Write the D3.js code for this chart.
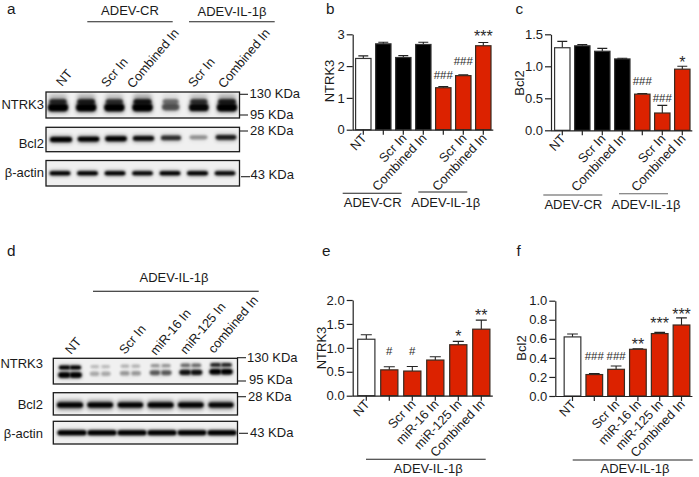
<!DOCTYPE html>
<html><head><meta charset="utf-8">
<style>html,body{margin:0;padding:0;background:#fff}svg{display:block}text{font-family:"Liberation Sans",Arial,sans-serif;fill:#1a1a1a}</style>
<script src="https://cdn.jsdelivr.net/npm/d3@7"></script></head><body>
<script>
// ---- data: bar charts ----
const bCats = ["NT","","Scr In","Combined In","","Scr In","Combined In"];
const bVals = [2.24,2.70,2.27,2.68,1.32,1.70,2.64];
const bErrs = [2.32,2.75,2.33,2.75,1.36,1.73,2.74];
const bMarks = ["","","","","###","###","***"];
const bMarkLevels = [0,0,0,0,1.72,2.17,3.03];
const bTicks = [0,1,2,3];
const cVals = [1.29,1.32,1.235,1.115,0.565,0.27,0.955];
const cErrs = [1.39,1.34,1.28,1.125,0.575,0.39,1.0];
const cMarks = ["","","","","###","###","*"];
const cMarkLevels = [0,0,0,0,0.776,0.505,1.12];
const cTicks = [0,0.5,1,1.5];
const eCats = ["NT","","Scr In","miR-16 In","miR-125 In","Combined In"];
const eVals = [1.18,0.54,0.515,0.745,1.065,1.39];
const eErrs = [1.275,0.605,0.61,0.815,1.135,1.58];
const eMarks = ["","#","#","","*","**"];
const eMarkLevels = [0,0.934,0.934,0,1.30,1.74];
const eTicks = [0,0.5,1,1.5,2];
const fVals = [0.62,0.225,0.28,0.49,0.655,0.745];
const fErrs = [0.65,0.235,0.315,0.495,0.668,0.82];
const fMarks = ["","###","###","**","***","***"];
const fMarkLevels = [0,0.423,0.423,0.577,0.797,0.892];
const fTicks = [0,0.2,0.4,0.6,0.8,1];
const topColors = ["#fff","#000","#000","#000","#dc2200","#dc2200","#dc2200"];
const botColors = ["#fff","#dc2200","#dc2200","#dc2200","#dc2200","#dc2200"];
// ---- data: blot band intensities ----
const aNtrkUpper = [.72,.78,.68,.82,.45,.68,.78];
const aNtrkLower = [1,1,1,1,.55,.9,1];
const aBcl2 = [1,.95,.95,.88,.72,.34,.8];
const aActin = [.95,.95,.95,.92,.95,.98,.92];
const dNtrkUpper = [.95,.2,.24,.34,.5,.78];
const dNtrkLower = [1,.26,.32,.55,.85,.95];
const dBcl2 = [1,.98,.95,1,.98,.92];
const dActin = [1,1,1,1,.98,1];

const svg = d3.select("body").append("svg").attr("width",699).attr("height",477);
const defs = svg.append("defs");
defs.append("filter").attr("id","blur").attr("x","-30%").attr("y","-100%").attr("width","160%").attr("height","300%")
  .append("feGaussianBlur").attr("stdDeviation","1.2 0.9");
defs.append("filter").attr("id","halo").attr("x","-30%").attr("y","-100%").attr("width","160%").attr("height","300%")
  .append("feGaussianBlur").attr("stdDeviation","2 2");

function txt(s,x,y,size,anchor,rot){
  const t = svg.append("text").text(s).attr("font-size",size).attr("text-anchor",anchor||"start");
  if(rot) t.attr("transform",`translate(${x},${y}) rotate(${rot})`); else t.attr("x",x).attr("y",y);
  return t;
}
function hline(x1,x2,y,col,w){
  svg.append("line").attr("x1",x1).attr("x2",x2).attr("y1",y).attr("y2",y).attr("stroke",col||"#222").attr("stroke-width",w||1.1);
}

// ---- panel letters ----
[["a",7,14],["b",326,14],["c",515.5,14],["d",7,256],["e",322,256],["f",516.5,256]].forEach(d=>txt(d[0],d[1],d[2],15.3));

// ---- bar chart ----
function barChart(o){
  const x = d3.scaleBand().domain(d3.range(o.vals.length)).range(o.xr).paddingInner(o.pad).paddingOuter(o.pad/2);
  const y = d3.scaleLinear().domain([0,o.max]).range(o.yr);
  const g = svg.append("g");
  const w = x.bandwidth();
  g.selectAll(".err").data(o.vals).join("path").attr("fill","none").attr("stroke","#222").attr("stroke-width",1.1)
    .attr("d",(d,i)=>{const cx=x(i)+w/2,t=y(o.errs[i]);return `M${cx-w*0.3},${t}H${cx+w*0.3}M${cx},${t}V${y(d)}`;});
  g.selectAll(".bar").data(o.vals).join("rect").attr("x",(d,i)=>x(i)+0.6).attr("width",w-1.2)
    .attr("y",d=>y(d)).attr("height",d=>y(0)-y(d))
    .attr("fill",(d,i)=>o.colors[i]).attr("stroke",(d,i)=>o.colors[i]==="#dc2200"?"#3a2a20":"#333").attr("stroke-width",1.2);
  const ya = g.append("g").attr("transform",`translate(${o.axisX},0)`)
    .call(d3.axisLeft(y).tickValues(o.ticks).tickSize(6).tickPadding(2).tickSizeOuter(0).tickFormat(d3.format(o.fmt)));
  ya.selectAll("text").attr("font-size",13).attr("font-family",null);
  const xa = g.append("g").attr("transform",`translate(0,${y(0)})`)
    .call(d3.axisBottom(x).tickSize(5).tickSizeOuter(0).tickFormat(()=>""));
  [ya,xa].forEach(a=>{a.selectAll("path,line").attr("stroke","#222").attr("stroke-width",1.2);});
  xa.select("path").attr("d",`M${o.axisX},0.5H${o.xr[1]}`);
  o.cats.forEach((c,i)=>{ if(c) txt(c,x(i)+w/2+4,y(0)+9,12.8,"end",-47); });
  o.marks.forEach((m,i)=>{ if(!m) return;
    const star = m[0]==="*";
    txt(m,x(i)+w/2,y(o.levels[i])+(star?9:4),star?16:11.5,"middle").style("fill","#2a2a2a");
  });
  txt(o.title,o.titleX,o.titleY,13,"middle",-90);
}
barChart({vals:bVals,errs:bErrs,cats:bCats,colors:topColors,marks:bMarks,levels:bMarkLevels,ticks:bTicks,max:3,fmt:"d",
  xr:[353.3,493.3],yr:[129.7,34.3],pad:.17,axisX:352.7,title:"NTRK3",titleX:334,titleY:81});
barChart({vals:cVals,errs:cErrs,cats:bCats,colors:topColors,marks:cMarks,levels:cMarkLevels,ticks:cTicks,max:1.5,fmt:".1f",
  xr:[552.3,692.3],yr:[130.3,34.3],pad:.17,axisX:551,title:"Bcl2",titleX:524,titleY:83});
barChart({vals:eVals,errs:eErrs,cats:eCats,colors:botColors,marks:eMarks,levels:eMarkLevels,ticks:eTicks,max:2,fmt:".1f",
  xr:[354.8,492.8],yr:[395.7,300],pad:.2,axisX:352.7,title:"NTRK3",titleX:325.5,titleY:348});
barChart({vals:fVals,errs:fErrs,cats:eCats,colors:botColors,marks:fMarks,levels:fMarkLevels,ticks:fTicks,max:1,fmt:".1f",
  xr:[561.6,692.4],yr:[396,300.7],pad:.18,axisX:555.3,title:"Bcl2",titleX:525.5,titleY:348});

// group brackets
hline(342.7,401.7,193.3,"#222"); txt("ADEV-CR",372.7,207.3,13,"middle");
hline(418.3,467.3,192,"#222"); txt("ADEV-IL-1β",445.7,207.3,13,"middle");
hline(543.3,602.3,195,"#555"); txt("ADEV-CR",573.3,209.3,13,"middle");
hline(619,668,193.8,"#666"); txt("ADEV-IL-1β",646,209.3,13,"middle");
hline(366,485.7,459.3,"#222"); txt("ADEV-IL-1β",428.3,472.7,13,"middle");
hline(572.7,692.7,460,"#222"); txt("ADEV-IL-1β",635,473.3,13,"middle");

// ---- blots ----
let clipId = 0;
function blot(box,rows){
  const id = "c"+(clipId++);
  defs.append("clipPath").attr("id",id).append("rect").attr("x",box[0]).attr("y",box[1]).attr("width",box[2]-box[0]).attr("height",box[3]-box[1]);
  svg.append("rect").attr("x",box[0]).attr("y",box[1]).attr("width",box[2]-box[0]).attr("height",box[3]-box[1]).attr("fill","#f0f0f0");
  const g = svg.append("g").attr("clip-path",`url(#${id})`);
  rows.forEach(r=>{
    const lane = d3.scalePoint().domain(d3.range(r.vals.length)).range(r.lanes);
    r.vals.forEach((v,i)=>{
      const wid = r.w*(0.72+0.28*v), cy = r.y+(r.slope||0)*i;
      if(r.halo) g.append("rect").attr("x",lane(i)-wid/2).attr("y",cy-r.halo/2).attr("width",wid).attr("height",r.halo)
        .attr("rx",2).attr("fill","#000").attr("opacity",0.5*v*v).attr("filter","url(#halo)");
      const sub = r.lobes ? [-r.w*0.25,r.w*0.25] : [0];
      sub.forEach(dx=>{
        const lw = r.lobes ? wid*0.52 : wid;
        g.append("rect").attr("x",lane(i)+dx-lw/2).attr("y",cy-r.h/2)
         .attr("width",lw).attr("height",r.h*(0.75+0.25*v)).attr("rx",r.h/2)
         .attr("fill","#000").attr("opacity",Math.min(1,v*1.05)).attr("filter","url(#blur)");
      });
    });
  });
  svg.append("rect").attr("x",box[0]).attr("y",box[1]).attr("width",box[2]-box[0]).attr("height",box[3]-box[1])
    .attr("fill","none").attr("stroke","#1a1a1a").attr("stroke-width",1.3);
}
blot([46,92,239.5,118],[{vals:aNtrkUpper,lanes:[58,227],y:102,h:6,w:19,halo:15},{vals:aNtrkLower,lanes:[58,227],y:107.5,h:7.5,w:20,halo:10}]);
blot([46,127.3,239.5,151.7],[{vals:aBcl2,lanes:[61,226],y:139.5,h:5,w:22,slope:-0.35,halo:7}]);
blot([46,160.5,239.5,186],[{vals:aActin,lanes:[60,225],y:173.3,h:4,w:21,halo:5}]);
blot([53.3,358.3,237.5,384],[{vals:dNtrkUpper,lanes:[70,221],y:367.5,h:4,w:22,slope:-0.5,lobes:true,halo:4},{vals:dNtrkLower,lanes:[70,221],y:375,h:5.5,w:23,slope:-0.65,lobes:true,halo:6}]);
blot([53.3,392.7,237.5,415],[{vals:dBcl2,lanes:[70,221],y:405,h:5,w:26,halo:9}]);
blot([53.3,421.3,237.5,444],[{vals:dActin,lanes:[72,222],y:432.7,h:5,w:29,halo:5}]);

// blot labels
[["NTRK3",44,109],["Bcl2",44,148],["β-actin",44,177],["NTRK3",43,368],["Bcl2",43,409],["β-actin",43,438]]
  .forEach(d=>txt(d[0],d[1],d[2],13,"end"));
[["130 KDa",249.5,97.7],["95 KDa",250,118.7],["28 KDa",250,135],["43 KDa",250.5,179.3],
 ["130 KDa",247,361.7],["95 KDa",249,384.3],["28 KDa",248,400.7],["43 KDa",250,437.3]]
  .forEach(d=>txt(d[0],d[1],d[2],13));
[[240,248,94.3],[240,248,115],[240,248,131],[241,250,176.7],[237,246,357.7],[237,246,381],[238,246,396.7],[239,248,433.3]]
  .forEach(d=>hline(d[0],d[1],d[2],"#222",1.1));

// lane labels
[["NT",62,87],["Scr In",107,88],["Combined In",133,89],["Scr In",194,88],["Combined In",224,89],
 ["NT",71,355],["Scr In",125,355],["miR-16 In",156,356],["miR-125 In",186,355],["combined In",214,354]]
  .forEach(d=>txt(d[0],d[1],d[2],12.8,"start",-50));

// top brackets
hline(87.3,172.7,21.7,"#222"); txt("ADEV-CR",130,14.5,13,"middle");
hline(189,274.7,21.7,"#222"); txt("ADEV-IL-1β",232,15.5,13,"middle");
hline(93,258.7,291.3,"#111"); txt("ADEV-IL-1β",174,282,13,"middle");
</script></body></html>
